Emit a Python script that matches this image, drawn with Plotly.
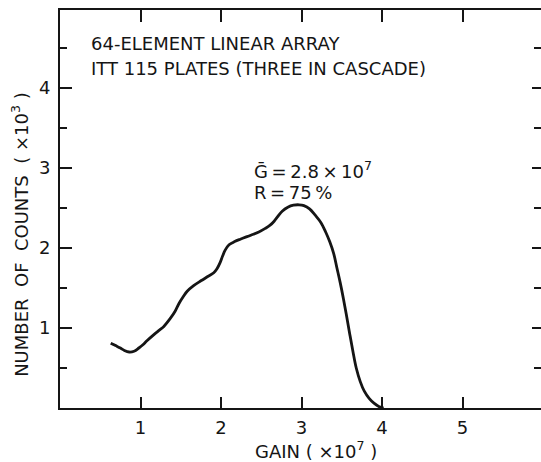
import plotly.graph_objects as go

# Data (gain in units of 1e7, counts in units of 1e3)
gain = [0.63, 0.69, 0.75, 0.80, 0.86, 0.92, 0.98, 1.03, 1.08, 1.17, 1.23, 1.29,
        1.37, 1.43, 1.48, 1.53, 1.58, 1.66, 1.75, 1.83, 1.91, 1.95, 1.99, 2.02,
        2.05, 2.10, 2.17, 2.24, 2.37, 2.47, 2.55, 2.61, 2.66, 2.71, 2.76, 2.83,
        2.90, 2.97, 3.03, 3.10, 3.17, 3.24, 3.30, 3.35, 3.40, 3.44, 3.48, 3.52,
        3.56, 3.60, 3.64, 3.68, 3.73, 3.78, 3.84, 3.90, 3.96, 4.02]
counts = [0.81, 0.78, 0.75, 0.72, 0.70, 0.71, 0.75, 0.79, 0.84, 0.92, 0.97, 1.02,
          1.12, 1.21, 1.31, 1.39, 1.46, 1.53, 1.59, 1.64, 1.69, 1.74, 1.82, 1.90,
          1.97, 2.04, 2.08, 2.11, 2.16, 2.20, 2.245, 2.285, 2.335, 2.40, 2.46, 2.51,
          2.535, 2.54, 2.53, 2.49, 2.41, 2.32, 2.20, 2.08, 1.93, 1.75, 1.57, 1.37,
          1.15, 0.92, 0.70, 0.50, 0.33, 0.21, 0.12, 0.06, 0.02, 0.0]

x_ticks = [1, 2, 3, 4, 5]
x_tick_labels = ["1", "2", "3", "4", "5"]
y_ticks = [1, 2, 3, 4]
y_tick_labels = ["1", "2", "3", "4"]

title_lines = ["64-ELEMENT LINEAR ARRAY", "ITT 115 PLATES (THREE IN CASCADE)"]
stat_lines = ["Ḡ\u2009=\u20092.8\u2009×\u200910<sup>7</sup>", "R\u2009=\u200975\u2009%"]
x_title = "GAIN ( ×10<sup>7</sup> )"
y_title = "NUMBER  OF  COUNTS  ( ×10<sup>3</sup> )"

FONT = "DejaVu Sans"
INK = "#151515"
XR = [0, 5.975]
YR = [0, 4.975]
FS = 18

fig = go.Figure()
fig.add_trace(go.Scatter(x=gain, y=counts, mode="lines",
                         line=dict(color=INK, width=2.8, shape="spline", smoothing=1.0),
                         hoverinfo="skip", showlegend=False))
# invisible trace to activate mirror axes (top / right)
fig.add_trace(go.Scatter(x=gain, y=counts, mode="lines", xaxis="x2", yaxis="y2",
                         line=dict(width=0), opacity=0, hoverinfo="skip", showlegend=False))

fig.update_layout(
    width=541, height=462,
    margin=dict(l=60, r=0, t=10, b=54),
    paper_bgcolor="white", plot_bgcolor="white",
    font=dict(family=FONT, color=INK, size=FS),
    xaxis=dict(range=XR, tickvals=x_ticks, ticktext=x_tick_labels,
               ticks="inside", ticklen=11, tickwidth=2, tickcolor=INK,
               showline=True, linewidth=2, linecolor=INK,
               showgrid=False, zeroline=False, ticklabelstandoff=2,
               tickfont=dict(size=FS)),
    yaxis=dict(range=YR, tickvals=y_ticks, ticktext=y_tick_labels,
               ticks="inside", ticklen=12, tickwidth=2, tickcolor=INK,
               minor=dict(dtick=0.5, tick0=0, ticks="inside", ticklen=7,
                          tickwidth=2, tickcolor=INK, showgrid=False),
               showline=True, linewidth=2, linecolor=INK,
               showgrid=False, zeroline=False, ticklabelstandoff=4,
               tickfont=dict(size=FS)),
    xaxis2=dict(range=XR, overlaying="x", side="top", anchor="y2",
                tickvals=x_ticks, showticklabels=False,
                ticks="inside", ticklen=12, tickwidth=2, tickcolor=INK,
                showline=True, linewidth=2, linecolor=INK,
                showgrid=False, zeroline=False),
    yaxis2=dict(range=YR, overlaying="y", side="right", anchor="x2",
                tickvals=y_ticks, showticklabels=False,
                ticks="inside", ticklen=9, tickwidth=2, tickcolor=INK,
                minor=dict(dtick=0.5, tick0=0, ticks="inside", ticklen=7,
                           tickwidth=2, tickcolor=INK, showgrid=False),
                showline=False, showgrid=False, zeroline=False),
)

ann = []
for i, t in enumerate(title_lines):
    ann.append(dict(text=t, x=0.354, y=[4.56, 4.25][i], xref="x", yref="y",
                    xanchor="left", yanchor="middle", showarrow=False,
                    font=dict(size=FS, family=FONT, color=INK)))
for i, t in enumerate(stat_lines):
    ann.append(dict(text=t, x=2.39, y=[2.98, 2.70][i], xref="x", yref="y",
                    xanchor="left", yanchor="middle", showarrow=False,
                    font=dict(size=FS, family=FONT, color=INK)))
ann.append(dict(text=x_title, x=0.532, y=0, xref="paper", yref="paper",
                xanchor="center", yanchor="middle", yshift=-42, showarrow=False,
                font=dict(size=FS, family=FONT, color=INK)))
ann.append(dict(text=y_title, x=0, y=0.435, xref="paper", yref="paper",
                xanchor="center", yanchor="middle", xshift=-40, textangle=-90,
                showarrow=False, font=dict(size=FS, family=FONT, color=INK)))
fig.update_layout(annotations=ann)

fig.write_html("out.html", config={"displayModeBar": False},
               post_script="document.body.style.margin='0';document.body.style.overflow='hidden';")
